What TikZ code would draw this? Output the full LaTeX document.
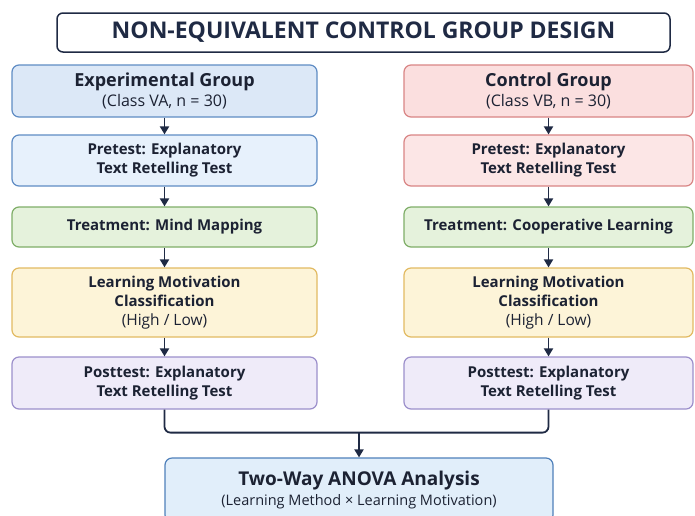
\documentclass[tikz,border=0pt]{standalone}
\usepackage{fontspec}
\setmainfont{Open Sans}
\usetikzlibrary{arrows.meta,calc}
\definecolor{ink}{HTML}{1C2233}
\definecolor{navy}{HTML}{1F2A44}
\definecolor{blueF}{HTML}{DCE8F7}
\definecolor{blueD}{HTML}{5F8CC4}
\definecolor{blueF2}{HTML}{E7F1FC}
\definecolor{redF}{HTML}{FBDFDF}
\definecolor{redF2}{HTML}{FCE6E6}
\definecolor{redD}{HTML}{D98585}
\definecolor{greenF}{HTML}{E5F2DC}
\definecolor{greenD}{HTML}{7FAE68}
\definecolor{yellowF}{HTML}{FDF4D8}
\definecolor{yellowD}{HTML}{E2BA62}
\definecolor{purpleF}{HTML}{EFEBF9}
\definecolor{purpleD}{HTML}{9C8FCB}
\definecolor{anovaF}{HTML}{E1EEFA}
\definecolor{anovaD}{HTML}{4F80BA}
\tikzset{
  box/.style={draw, rounded corners=7pt, line width=1.2pt, align=center, text=ink, inner sep=0pt},
  lcol/.style={minimum width=305pt},
  rcol/.style={minimum width=289pt},
  bluebox/.style={box, fill=blueF, draw=blueD},
  bluebox2/.style={box, fill=blueF2, draw=blueD},
  redbox/.style={box, fill=redF, draw=redD},
  redbox2/.style={box, fill=redF2, draw=redD},
  greenbox/.style={box, fill=greenF, draw=greenD},
  yellowbox/.style={box, fill=yellowF, draw=yellowD},
  purplebox/.style={box, fill=purpleF, draw=purpleD},
  flow/.style={draw=navy, line width=1.8pt, -{Triangle[length=8pt,width=9pt]}},
  merge/.style={draw=navy, line width=1.8pt, rounded corners=6pt},
  hfont/.style={font=\bfseries\fontsize{18}{20}\selectfont},
  mfont/.style={font=\bfseries\fontsize{15}{19}\selectfont},
}
\newcommand{\subtxt}[2][15]{{\mdseries\fontsize{#1}{20}\selectfont #2}}
\begin{document}
\begin{tikzpicture}[x=1pt,y=-1pt]
\clip (0,0) rectangle (695,515);
\fill[white] (0,0) rectangle (695,515);

\node[box, draw=navy, fill=white, line width=1.5pt, rounded corners=6pt,
  minimum width=613pt, minimum height=39pt,
  font=\bfseries\fontsize{23}{24}\selectfont, text=navy] (title) at (363.5,32.5)
  {NON-EQUIVALENT CONTROL GROUP DESIGN};

% left column
\node[bluebox, lcol, minimum height=52pt, hfont] (lg) at (164.5,91)
  {Experimental Group\\\subtxt[16]{(Class VA, n = 30)}};
\node[bluebox2, lcol, minimum height=51pt, mfont] (lp) at (164.5,160.5)
  {Pretest: Explanatory\\Text Retelling Test};
\node[greenbox, lcol, minimum height=40pt, mfont] (lt) at (164.5,227)
  {Treatment: Mind Mapping};
\node[yellowbox, lcol, minimum height=69pt, mfont] (lm) at (164.5,302.5)
  {Learning Motivation\\Classification\\\subtxt[15.5]{(High / Low)}};
\node[purplebox, lcol, minimum height=52pt, mfont] (lo) at (164.5,383)
  {Posttest: Explanatory\\Text Retelling Test};

% right column
\node[redbox, rcol, minimum height=52pt, hfont] (rg) at (548.5,91)
  {Control Group\\\subtxt[16]{(Class VB, n = 30)}};
\node[redbox2, rcol, minimum height=51pt, mfont] (rp) at (548.5,160.5)
  {Pretest: Explanatory\\Text Retelling Test};
\node[greenbox, rcol, minimum height=40pt, mfont] (rt) at (548.5,227)
  {Treatment: Cooperative Learning};
\node[yellowbox, rcol, minimum height=69pt, mfont] (rm) at (548.5,302.5)
  {Learning Motivation\\Classification\\\subtxt[15.5]{(High / Low)}};
\node[purplebox, rcol, minimum height=52pt, mfont] (ro) at (548.5,383)
  {Posttest: Explanatory\\Text Retelling Test};

% analysis
\node[box, fill=anovaF, draw=anovaD, minimum width=388pt, minimum height=64pt,
  font=\bfseries\fontsize{19}{20}\selectfont] (an) at (359,490)
  {Two-Way ANOVA Analysis\\\subtxt[14.5]{(Learning Method × Learning Motivation)}};

% arrows
\foreach \a/\b in {lg/lp, lp/lt, lt/lm, lm/lo, rg/rp, rp/rt, rt/rm, rm/ro}
  \draw[flow] (\a.south) -- (\b.north);

\coordinate (ml) at ($(lo.south)+(0,23)$);
\draw[merge] (lo.south) -- (ml) -| (ro.south);
\draw[flow] (ml -| an.north) -- (an.north);
\end{tikzpicture}
\end{document}
